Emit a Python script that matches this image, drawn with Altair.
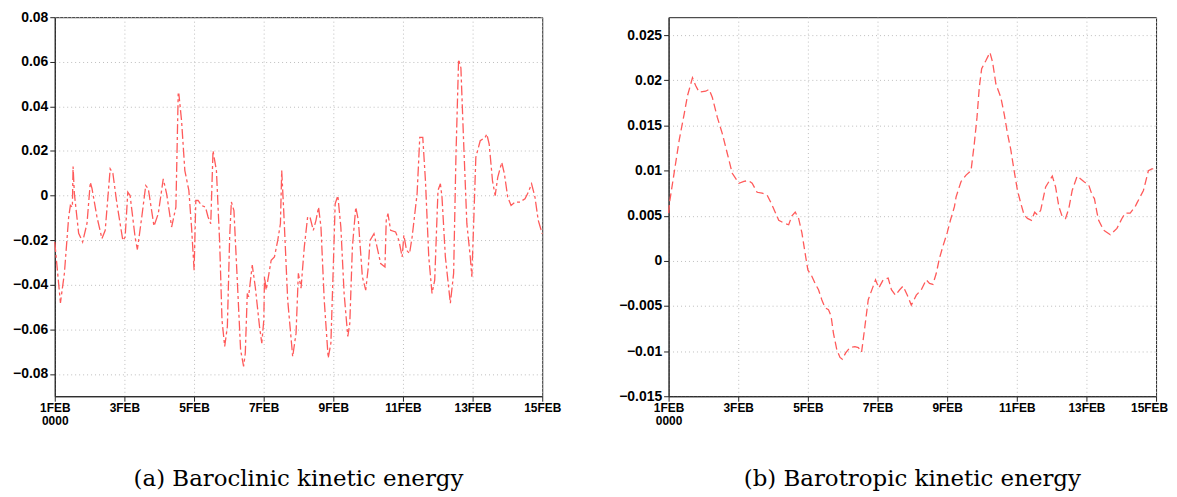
import altair as alt
import pandas as pd

# ---- data ----
left_days = [0, 0.163, 0.277, 0.400, 0.449, 0.506, 0.526, 0.563, 0.686, 0.800, 0.926, 1.021, 1.069,
             1.212, 1.355, 1.449, 1.592, 1.670, 1.784, 1.955, 2.021, 2.098, 2.164, 2.307, 2.373, 2.499,
             2.613, 2.687, 2.850, 2.973, 3.116, 3.213, 3.356, 3.479, 3.545, 3.565, 3.642, 3.736, 3.851,
             3.928, 4.002, 4.051, 4.117, 4.214, 4.328, 4.403, 4.480, 4.545, 4.643, 4.737, 4.803, 4.880,
             4.957, 5.023, 5.072, 5.146, 5.260, 5.337, 5.423, 5.472, 5.529, 5.566, 5.672, 5.758, 5.881,
             5.946, 6.004, 6.024, 6.072, 6.215, 6.309, 6.404, 6.481, 6.518, 6.575, 6.690, 6.833, 6.930,
             6.996, 7.073, 7.167, 7.262, 7.330, 7.425, 7.502, 7.576, 7.645, 7.739, 7.853, 7.930, 8.005,
             8.053, 8.130, 8.216, 8.310, 8.416, 8.473, 8.548, 8.645, 8.719, 8.834, 8.931, 9.005, 9.054,
             9.168, 9.234, 9.360, 9.483, 9.520, 9.569, 9.646, 9.789, 9.883, 9.977, 10.026, 10.103,
             10.189, 10.263, 10.406, 10.483, 10.569, 10.646, 10.741, 10.835, 10.912, 11.006, 11.075,
             11.121, 11.218, 11.361, 11.455, 11.521, 11.598, 11.664, 11.741, 11.835, 11.933, 11.978,
             12.027, 12.093, 12.219, 12.362, 12.407, 12.476, 12.571, 12.648, 12.722, 12.837, 12.914,
             13.008, 13.105, 13.220, 13.362, 13.505, 13.600, 13.694, 13.791, 13.885, 14.0]
left_vals = [-0.0208, -0.0481, -0.0348, -0.0096, -0.0044, -0.0052, 0.0130, 0.0009, -0.0169, -0.0208,
             -0.0125, 0.0060, 0.0032, -0.0096, -0.0193, -0.0156, 0.0120, 0.0099, -0.0035, -0.0201,
             -0.0186, 0.0015, 0.0000, -0.0186, -0.0242, -0.0096, 0.0045, 0.0030, -0.0137, -0.0081,
             0.0075, 0.0008, -0.0141, -0.0052, 0.0455, 0.0455, 0.0335, 0.0112, 0.0023, -0.0141,
             -0.0335, -0.0022, -0.0022, -0.0044, -0.0052, -0.0096, -0.0126, 0.0201, 0.0112, -0.0215,
             -0.0558, -0.0677, -0.0588, -0.0186, -0.0029, -0.0067, -0.0439, -0.0692, -0.0766, -0.0707,
             -0.0439, -0.0454, -0.0312, -0.0409, -0.0588, -0.0662, -0.0558, -0.0364, -0.0424, -0.0290,
             -0.0275, -0.0201, -0.0126, 0.0112, -0.0067, -0.0469, -0.0722, -0.0617, -0.0349, -0.0415,
             -0.0230, -0.0096, -0.0096, -0.0156, -0.0111, -0.0052, -0.0141, -0.0469, -0.0729, -0.0662,
             -0.0290, -0.0037, 0.0000, -0.0141, -0.0439, -0.0632, -0.0573, -0.0230, -0.0052, -0.0111,
             -0.0364, -0.0424, -0.0320, -0.0201, -0.0171, -0.0215, -0.0305, -0.0320, -0.0111, -0.0081,
             -0.0156, -0.0163, -0.0201, -0.0275, -0.0178, -0.0245, -0.0260, -0.0186, 0.0008, 0.0261,
             0.0261, 0.0067, -0.0275, -0.0439, -0.0379, 0.0023, 0.0053, -0.0007, -0.0275, -0.0483,
             -0.0349, 0.0172, 0.0611, 0.0573, 0.0246, -0.0126, -0.0275, -0.0364, -0.0141, 0.0172,
             0.0246, 0.0261, 0.0276, 0.0231, 0.0067, 0.0000, 0.0082, 0.0149, 0.0097, -0.0007, -0.0044,
             -0.0029, -0.0029, -0.0014, 0.0015, 0.0053, -0.0007, -0.0111, -0.0171]

right_days = [0, 0.037, 0.306, 0.449, 0.543, 0.686, 0.780, 0.877, 1.066, 1.163, 1.257, 1.400, 1.543,
              1.686, 1.829, 2.020, 2.163, 2.286, 2.400, 2.543, 2.686, 2.829, 2.971, 3.163, 3.306, 3.449,
              3.543, 3.637, 3.734, 3.829, 3.923, 4.000, 4.114, 4.209, 4.306, 4.400, 4.494, 4.591, 4.666,
              4.734, 4.829, 4.923, 4.991, 5.086, 5.209, 5.351, 5.449, 5.543, 5.637, 5.734, 5.877, 5.943,
              6.037, 6.163, 6.306, 6.400, 6.514, 6.637, 6.734, 6.857, 6.971, 7.114, 7.257, 7.400, 7.494,
              7.591, 7.686, 7.780, 7.877, 8.000, 8.094, 8.209, 8.257, 8.400, 8.543, 8.686, 8.780, 8.857,
              8.923, 8.991, 9.114, 9.229, 9.306, 9.400, 9.543, 9.637, 9.734, 9.829, 9.923, 10.020,
              10.114, 10.209, 10.306, 10.420, 10.514, 10.591, 10.686, 10.829, 11.020, 11.114, 11.209,
              11.306, 11.400, 11.494, 11.591, 11.734, 11.923, 12.066, 12.163, 12.229, 12.306, 12.351,
              12.494, 12.686, 12.877, 13.020, 13.114, 13.257, 13.400, 13.449, 13.637, 13.780, 13.877, 14.0]
right_vals = [0.0053, 0.0067, 0.0134, 0.0163, 0.0183, 0.0203, 0.0194, 0.0187, 0.0188, 0.0190, 0.0181,
              0.0159, 0.0141, 0.0119, 0.0097, 0.0086, 0.0088, 0.0089, 0.0086, 0.0076, 0.0075, 0.0073,
              0.0062, 0.0045, 0.0042, 0.0040, 0.0050, 0.0054, 0.0047, 0.0031, 0.0008, -0.0010, -0.0017,
              -0.0025, -0.0032, -0.0043, -0.0052, -0.0054, -0.0061, -0.0080, -0.0098, -0.0107, -0.0109,
              -0.0102, -0.0096, -0.0095, -0.0096, -0.0101, -0.0073, -0.0043, -0.0028, -0.0021, -0.0030,
              -0.0021, -0.0019, -0.0032, -0.0038, -0.0032, -0.0028, -0.0038, -0.0049, -0.0038, -0.0032,
              -0.0021, -0.0025, -0.0026, -0.0014, 0.0003, 0.0016, 0.0031, 0.0045, 0.0060, 0.0071, 0.0088,
              0.0095, 0.0100, 0.0130, 0.0159, 0.0192, 0.0213, 0.0222, 0.0231, 0.0220, 0.0196, 0.0181,
              0.0163, 0.0141, 0.0123, 0.0100, 0.0078, 0.0064, 0.0051, 0.0047, 0.0045, 0.0054, 0.0051,
              0.0056, 0.0082, 0.0094, 0.0082, 0.0060, 0.0049, 0.0047, 0.0058, 0.0078, 0.0094, 0.0088,
              0.0084, 0.0073, 0.0069, 0.0053, 0.0045, 0.0034, 0.0029, 0.0036, 0.0047, 0.0053, 0.0053,
              0.0060, 0.0064, 0.0078, 0.0100, 0.0102, 0.0102]

x_ticks = [0, 2, 4, 6, 8, 10, 12, 14]
left_yticks = [-0.08, -0.06, -0.04, -0.02, 0, 0.02, 0.04, 0.06, 0.08]
right_yticks = [-0.015, -0.01, -0.005, 0, 0.005, 0.01, 0.015, 0.02, 0.025]
captions = ["(a) Baroclinic kinetic energy", "(b) Barotropic kinetic energy"]

LINE_COLOR = "#ff5a5a"
TICK_FONT = "Liberation Sans"


def panel(days, vals, ydomain, yticks, dash, caption, yextent, last_offset):
    df = pd.DataFrame({"day": days, "val": vals})
    x = alt.X(
        "day:Q",
        scale=alt.Scale(domain=[0, 14], nice=False, zero=False),
        axis=alt.Axis(
            values=x_ticks,
            labelExpr="datum.value == 0 ? ['1FEB', '0000'] : (datum.value + 1) + 'FEB'",
            title=None,
            labelFontSize=12,
            labelLineHeight=13,
            labelPadding=1,
            labelFlush=False,
            labelOffset={"condition": {"test": "datum.value == 14", "value": last_offset}, "value": 0},
        ),
    )
    y = alt.Y(
        "val:Q",
        scale=alt.Scale(domain=ydomain, nice=False, zero=False),
        axis=alt.Axis(
            values=yticks,
            format="~g",
            title=None,
            labelFontSize=14,
            labelPadding=2,
            minExtent=yextent,
            maxExtent=yextent,
        ),
    )
    return (
        alt.Chart(df)
        .mark_line(color=LINE_COLOR, strokeDash=dash, strokeWidth=1.3)
        .encode(x=x, y=y)
        .properties(
            width=490,
            height=381,
            title=alt.TitleParams(
                caption,
                orient="bottom",
                anchor="middle",
                font="DejaVu Serif",
                fontSize=23,
                fontWeight="normal",
                color="#000",
                offset=42,
            ),
        )
    )


left = panel(left_days, left_vals, [-0.09, 0.08], left_yticks, [10, 3, 3, 3], captions[0], 46, 0)
right = panel(right_days, right_vals, [-0.015, 0.027], right_yticks, [8, 4], captions[1], 56, -7)

chart = (
    alt.hconcat(left, right, spacing=50)
    .properties(padding={"left": 0, "top": 0, "right": 0, "bottom": 0})
    .configure_view(stroke="#222", strokeWidth=1)
    .configure_axis(
        grid=True,
        gridColor="#bdbdbd",
        gridDash=[1, 3],
        gridWidth=1,
        domainColor="#222",
        tickColor="#222",
        tickSize=5,
        labelFont=TICK_FONT,
        labelFontWeight="bold",
        labelColor="#000",
    )
)

chart.save("out.html", embed_options={"renderer": "svg", "actions": False})
